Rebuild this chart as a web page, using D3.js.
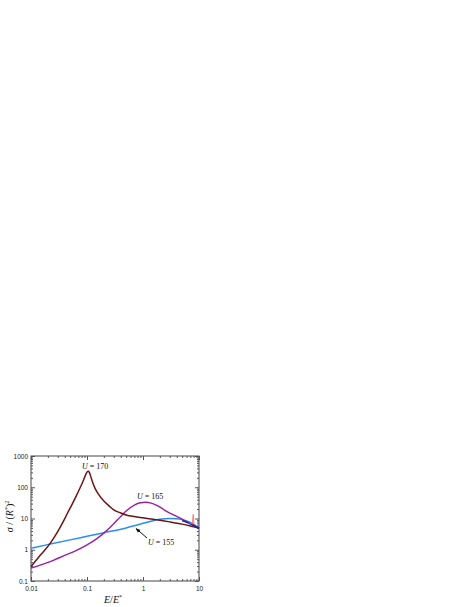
<!DOCTYPE html>
<html>
<head>
<meta charset="utf-8">
<script src="https://cdn.jsdelivr.net/npm/d3@7"></script>
<style>
  body { margin: 0; background: #fff; }
  .tick text { font-family: Arial, "Liberation Sans", sans-serif; font-size: 6.5px; fill: #222; }
  .lbl { font-family: "Liberation Serif", "DejaVu Serif", serif; font-size: 8px; fill: #111; }
</style>
</head>
<body>
<svg id="chart"></svg>
<script>
// curve data: [E/E*, sigma/(R*)^2]
let u170 = [[0.01,0.29],[0.015,0.7],[0.022,1.6],[0.03,3.8],[0.037,7.5],[0.045,15],[0.055,30],
  [0.065,55],[0.075,95],[0.085,155],[0.093,235],[0.1,305],[0.105,325],[0.11,300],[0.115,240],
  [0.125,150],[0.14,90],[0.16,60],[0.2,36],[0.25,25],[0.3,19],[0.4,15],[0.5,13],[0.7,11.5],
  [1,10.5],[1.5,9.5],[2,8.8],[3,7.8],[5,6.6],[7,5.8],[10,5.0]];
let u165 = [[0.01,0.26],[0.015,0.33],[0.025,0.46],[0.04,0.66],[0.065,0.95],[0.1,1.43],[0.15,2.28],
  [0.2,3.4],[0.3,6.8],[0.4,11.6],[0.5,17.3],[0.7,27],[0.9,32],[1.1,33],[1.4,31],[1.8,26],[2.5,18],
  [3.5,13],[5,9.5],[7,6.8],[10,4.8]];
let u155 = [[0.01,1.12],[0.02,1.46],[0.05,2.07],[0.1,2.69],[0.2,3.5],[0.5,5.0],[0.7,5.9],[1,7.0],
  [1.5,8.5],[2,9.4],[3,10],[4,9.8],[5,9.2],[6,8.3],[8,6.5],[10,4.9]];
let tailDark = [[5,8.6],[7,6.8],[10,4.9]];
let spike = [[6.5,7.2],[7.6,6.8],[7.9,13.5],[8.1,7.0],[8.6,6.3]];

let xTicks = [0.01, 0.1, 1, 10];
let xTickLabels = ['0.01', '0.1', '1', '10'];
let yTicks = [0.1, 1, 10, 100, 1000];
let yTickLabels = ['0.1', '1', '10', '100', '1000'];

let W = 469, H = 607;
let pL = 31, pR = 199, pT = 456, pB = 581;

let svg = d3.select('#chart').attr('width', W).attr('height', H);

let xScale = d3.scaleLog().domain([0.01, 10]).range([pL, pR]);
let yScale = d3.scaleLog().domain([0.1, 1000]).range([pB, pT]);

// minor ticks
function minors(lo, hi) {
  let out = [];
  for (let d = lo; d < hi; d *= 10) {
    for (let k = 2; k < 10; k++) out.push(d * k);
  }
  return out;
}
let xMinor = minors(0.01, 10);
let yMinor = minors(0.1, 1000);

// frame
svg.append('rect')
  .attr('x', pL).attr('y', pT)
  .attr('width', pR - pL).attr('height', pB - pT)
  .attr('fill', 'none').attr('stroke', '#444').attr('stroke-width', 1);

function tickAxis(axisFn, scale, vals, size, tr) {
  let a = axisFn(scale).tickValues(vals).tickSize(size).tickFormat('');
  let g = svg.append('g').attr('transform', tr).call(a);
  g.select('.domain').remove();
  g.selectAll('line').attr('stroke', '#555');
  return g;
}
// inward ticks on all sides
tickAxis(d3.axisBottom, xScale, xTicks, -4, `translate(0,${pB})`);
tickAxis(d3.axisBottom, xScale, xMinor, -2, `translate(0,${pB})`);
tickAxis(d3.axisTop, xScale, xTicks, -4, `translate(0,${pT})`);
tickAxis(d3.axisTop, xScale, xMinor, -2, `translate(0,${pT})`);
tickAxis(d3.axisLeft, yScale, yTicks, -4, `translate(${pL},0)`);
tickAxis(d3.axisLeft, yScale, yMinor, -2, `translate(${pL},0)`);
tickAxis(d3.axisRight, yScale, yTicks, -4, `translate(${pR},0)`);
tickAxis(d3.axisRight, yScale, yMinor, -2, `translate(${pR},0)`);

// tick labels
let xLab = d3.axisBottom(xScale).tickValues(xTicks).tickSize(0).tickPadding(5)
  .tickFormat((d, i) => xTickLabels[i]);
svg.append('g').attr('transform', `translate(0,${pB})`).call(xLab)
  .select('.domain').remove();
let yLab = d3.axisLeft(yScale).tickValues(yTicks).tickSize(0).tickPadding(3)
  .tickFormat((d, i) => yTickLabels[i]);
svg.append('g').attr('transform', `translate(${pL},0)`).call(yLab)
  .select('.domain').remove();

// curves
let line = d3.line()
  .x(d => xScale(d[0]))
  .y(d => yScale(d[1]))
  .curve(d3.curveMonotoneX);

let plot = svg.append('g');
plot.append('path').datum(u155).attr('d', line)
  .attr('fill', 'none').attr('stroke', '#2a8cf2').attr('stroke-width', 1.5);
plot.append('path').datum(u165).attr('d', line)
  .attr('fill', 'none').attr('stroke', '#9c1f9f').attr('stroke-width', 1.4);
plot.append('path').datum(u170).attr('d', line)
  .attr('fill', 'none').attr('stroke', '#6e1414').attr('stroke-width', 1.5);
plot.append('path').datum(tailDark).attr('d', line)
  .attr('fill', 'none').attr('stroke', '#1b2aa0').attr('stroke-width', 1.6);
plot.append('path').datum(spike).attr('d', d3.line().x(d => xScale(d[0])).y(d => yScale(d[1])))
  .attr('fill', 'none').attr('stroke', '#ff5a5a').attr('stroke-width', 0.8);

// curve labels
function uLabel(x, y, val) {
  let t = svg.append('text').attr('class', 'lbl').attr('x', x).attr('y', y);
  t.append('tspan').attr('font-style', 'italic').text('U');
  t.append('tspan').text(' = ' + val);
}
uLabel(82, 469, 170);
uLabel(137, 499, 165);
uLabel(148, 545, 155);

// arrow for U = 155
svg.append('defs').append('marker')
  .attr('id', 'arr').attr('viewBox', '0 0 10 10').attr('refX', 9).attr('refY', 5)
  .attr('markerWidth', 5).attr('markerHeight', 5).attr('orient', 'auto')
  .append('path').attr('d', 'M0,1 L10,5 L0,9 z').attr('fill', '#111');
svg.append('line')
  .attr('x1', 147).attr('y1', 538)
  .attr('x2', 136).attr('y2', 528.5)
  .attr('stroke', '#111').attr('stroke-width', 1)
  .attr('marker-end', 'url(#arr)');

// axis titles
let yt = svg.append('text').attr('class', 'lbl')
  .attr('transform', `translate(13,${(pT + pB) / 2 - 2}) rotate(-90)`)
  .attr('text-anchor', 'middle').style('font-size', '10px');
yt.append('tspan').attr('font-style', 'italic').text('σ');
yt.append('tspan').text(' / (');
yt.append('tspan').attr('font-style', 'italic').text('R');
yt.append('tspan').attr('dy', -4).style('font-size', '6px').text('*');
yt.append('tspan').attr('dy', 4).text(')');
yt.append('tspan').attr('dy', -4).style('font-size', '6px').text('2');

let xt = svg.append('text').attr('class', 'lbl')
  .attr('x', 104).attr('y', 603).style('font-size', '10px');
xt.append('tspan').attr('font-style', 'italic').text('E');
xt.append('tspan').text('/');
xt.append('tspan').attr('font-style', 'italic').text('E');
xt.append('tspan').attr('dy', -4).style('font-size', '6px').text('*');
</script>
</body>
</html>
